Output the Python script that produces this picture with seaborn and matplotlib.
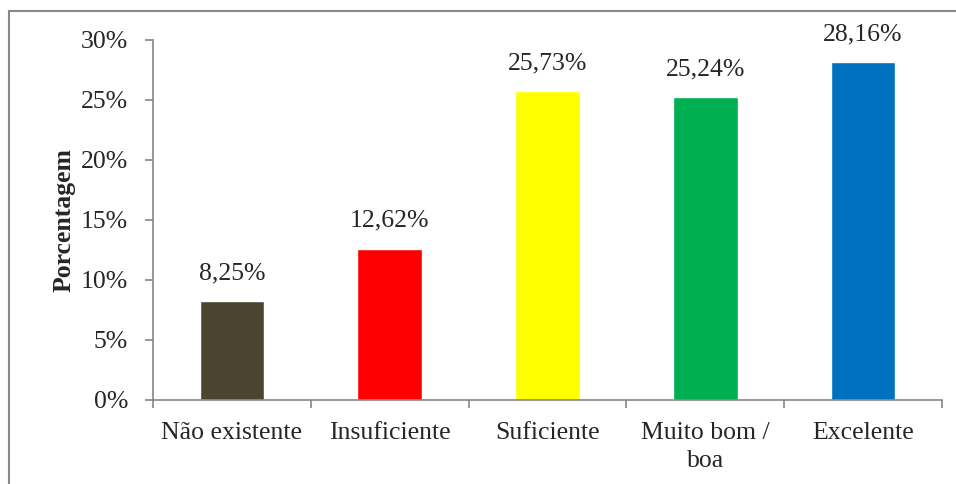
import matplotlib
matplotlib.use("Agg")
import matplotlib.pyplot as plt
import seaborn as sns
import pandas as pd
from matplotlib.patches import Rectangle
from matplotlib.ticker import FixedLocator

# dados
categorias = ["Não existente", "Insuficiente", "Suficiente", "Muito bom /\nboa", "Excelente"]
valores = [8.25, 12.62, 25.73, 25.24, 28.16]
cores = ["#4B452F", "#FF0000", "#FFFF00", "#00B050", "#0070C0"]
yticks = [0, 5, 10, 15, 20, 25, 30]

sns.set_style("white")
plt.rcParams['font.family'] = ['Liberation Serif', 'DejaVu Serif']

df = pd.DataFrame({"cat": categorias, "val": valores})

fig = plt.figure(figsize=(9.56, 4.84), dpi=100)
ax = fig.add_axes([153 / 956, 1 - 400 / 484, (942 - 153) / 956, 360 / 484])

sns.barplot(data=df, x="cat", y="val", hue="cat", palette=cores, legend=False,
            width=0.41, saturation=1, ax=ax)

for i, v in enumerate(valores):
    ax.annotate(f"{v:.2f}%".replace(".", ","), (i, v), xytext=(0, 12),
                textcoords="offset points", ha="center", va="bottom", fontsize=18.5)

ax.set_ylim(0, 30)
ax.set_xlim(-0.5, 4.5)
ax.set_yticks(yticks)
ax.set_yticklabels([f"{t}%" for t in yticks], fontsize=18.5)
ax.tick_params(axis="x", which="major", length=0, labelsize=18.5, pad=16)
for lbl in ax.get_xticklabels():
    lbl.set_linespacing(1.35)
ax.xaxis.set_minor_locator(FixedLocator([-0.5, 0.5, 1.5, 2.5, 3.5, 4.5]))
ax.tick_params(axis="x", which="minor", length=6, color="#868686", width=1.2, direction="out")
ax.tick_params(axis="y", length=6, color="#868686", width=1.2, direction="out", pad=12)
ax.tick_params(bottom=True, left=True, which="both")
ax.set_xlabel("")
ax.set_ylabel("Porcentagem", fontsize=18.5, fontweight="bold", labelpad=4)

for s in ["top", "right"]:
    ax.spines[s].set_visible(False)
for s in ["left", "bottom"]:
    ax.spines[s].set_color("#868686")
    ax.spines[s].set_linewidth(1.2)

# moldura do gráfico
fig.patches.append(Rectangle((9 / 956, -0.1), 1.2, 1 - 11 / 484 + 0.1, transform=fig.transFigure,
                             fill=False, edgecolor="#888888", linewidth=1.5))

fig.savefig("out.png", dpi=100)
